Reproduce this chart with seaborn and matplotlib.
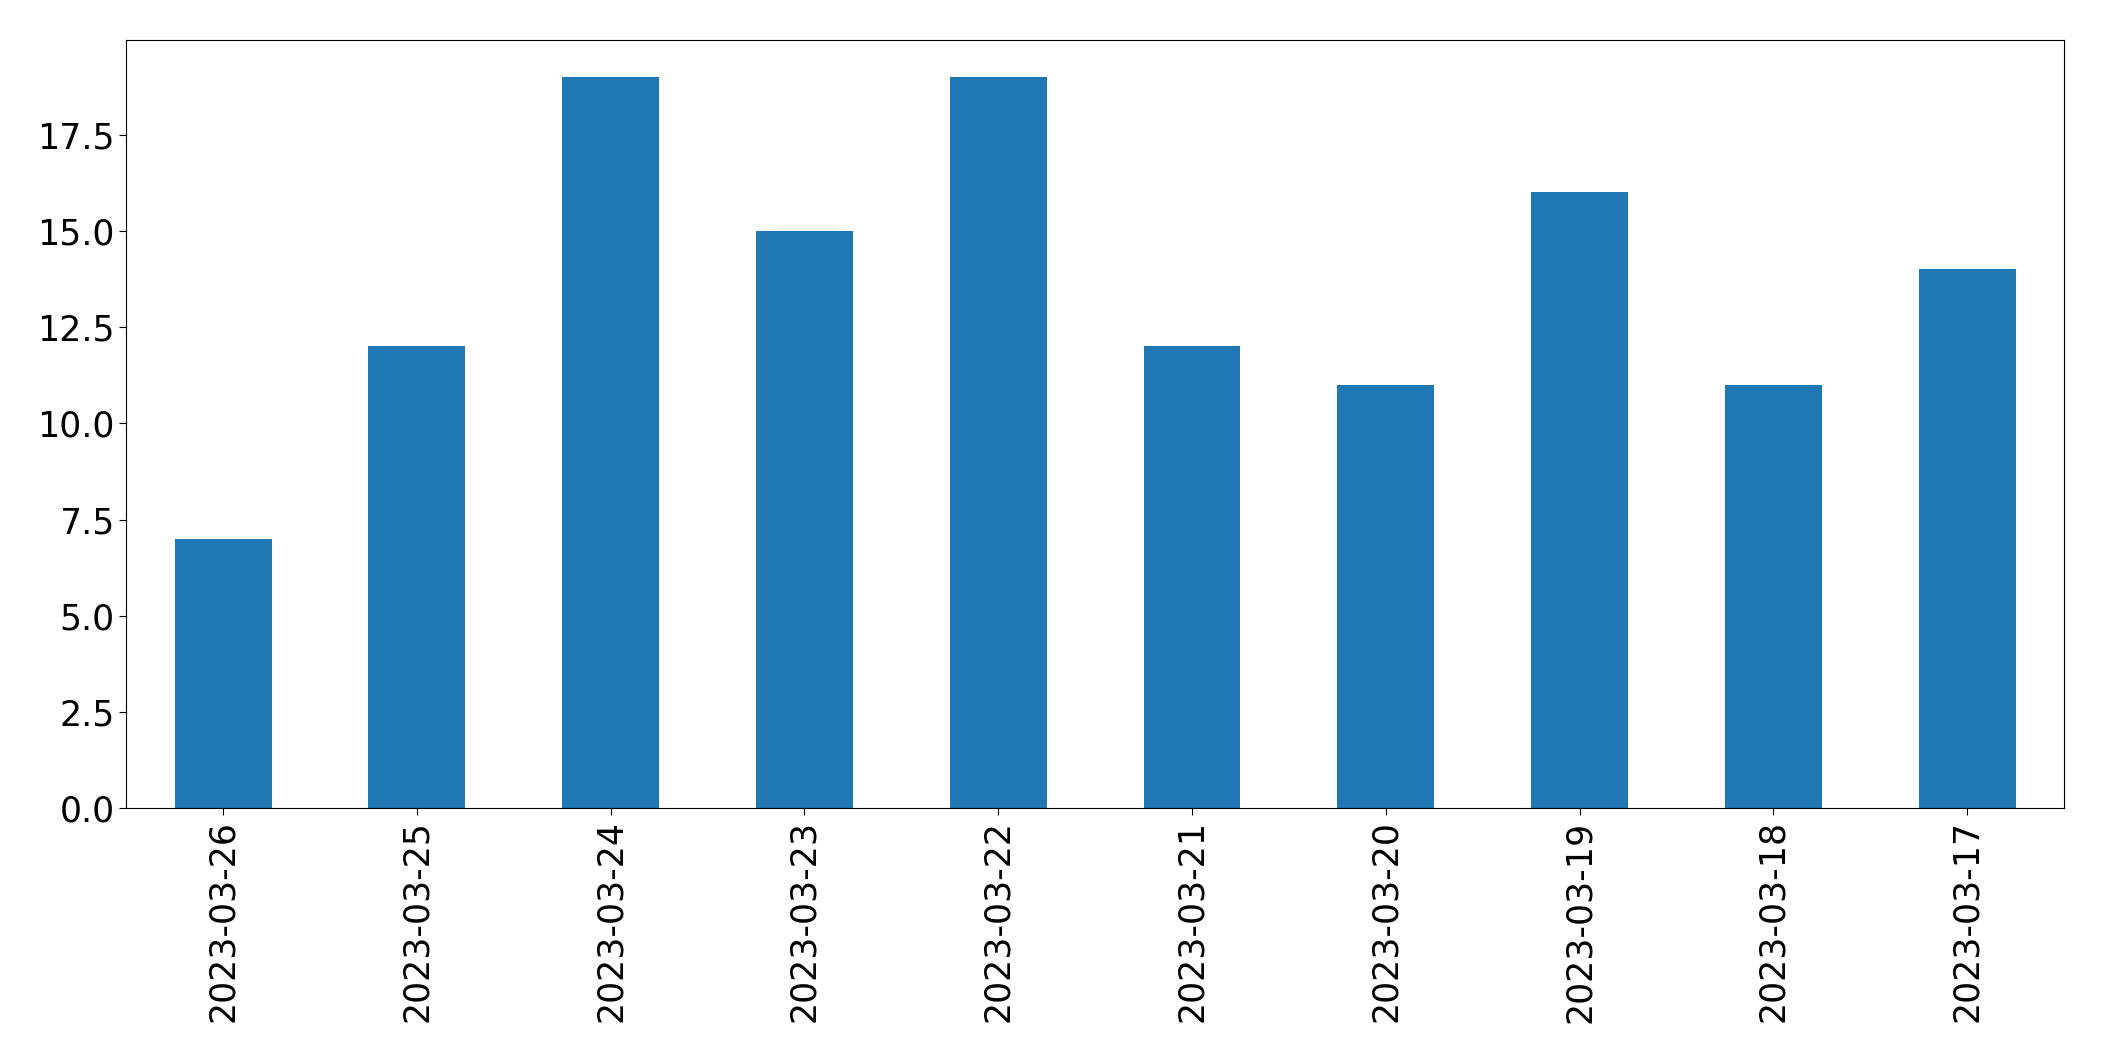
import pandas as pd
import matplotlib
matplotlib.use("Agg")
import matplotlib.pyplot as plt
import seaborn as sns

# Datos
fechas = ['2023-03-26', '2023-03-25', '2023-03-24', '2023-03-23', '2023-03-22',
          '2023-03-21', '2023-03-20', '2023-03-19', '2023-03-18', '2023-03-17']
conteos = [7, 12, 19, 15, 19, 12, 11, 16, 11, 14]

df = pd.DataFrame({'fecha': fechas, 'cantidad': conteos})

fig, ax = plt.subplots(figsize=(21.04, 10.61), dpi=100)
fig.subplots_adjust(left=0.060, right=0.981, top=0.962, bottom=0.238)

# Grafico de barras
sns.barplot(data=df, x='fecha', y='cantidad', color='#1f77b4', saturation=1,
            width=0.5, order=fechas, linewidth=0, ax=ax)

ax.set_xlim(-0.5, len(fechas) - 0.5)
ax.set_ylim(0, 19.95)
ax.set_yticks([0, 2.5, 5, 7.5, 10, 12.5, 15, 17.5])
ax.set_yticklabels(['0.0', '2.5', '5.0', '7.5', '10.0', '12.5', '15.0', '17.5'])
ax.tick_params(axis='both', labelsize=25, length=5)
ax.tick_params(axis='x', rotation=90)
for s in ax.spines.values():
    s.set_color('black')
ax.set_xlabel('')
ax.set_ylabel('')

plt.savefig('out.png')
